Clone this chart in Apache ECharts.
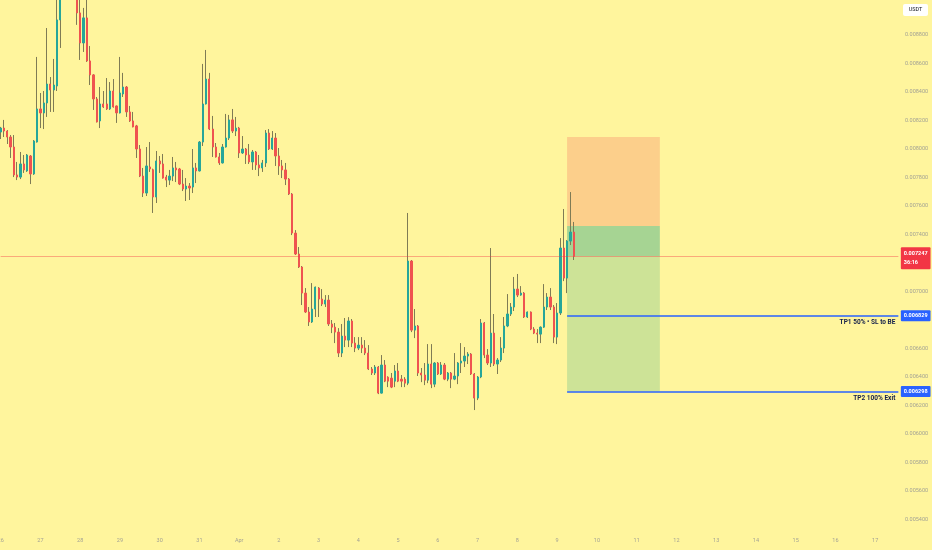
<!DOCTYPE html>
<html>
<head>
<meta charset="utf-8">
<script src="https://cdn.jsdelivr.net/npm/echarts@6/dist/echarts.min.js"></script>
<style>
html, body { margin: 0; padding: 0; background: #FFF59D; }
#main { width: 932px; height: 550px; }
</style>
</head>
<body>
<div id="main"></div>
<script>
// 2h candles from Mar 26 00:00, each row: [open, close, low, high]
var candles = [
  [0.008119,0.008147,0.008070,0.008155],[0.008147,0.008126,0.008084,0.008204],[0.008126,0.008084,0.008035,0.008133],[0.008084,0.008014,0.007937,0.008098],
  [0.008014,0.007818,0.007803,0.008098],[0.007818,0.007803,0.007782,0.007909],[0.007803,0.007895,0.007789,0.007979],[0.007895,0.007853,0.007832,0.007958],
  [0.007846,0.007958,0.007839,0.007965],[0.007951,0.007825,0.007754,0.007958],[0.007825,0.008056,0.007818,0.008063],[0.008049,0.008281,0.008045,0.008646],
  [0.008281,0.008253,0.008147,0.008393],[0.008253,0.008323,0.008140,0.008407],[0.008323,0.008456,0.008225,0.008849],[0.008456,0.008414,0.008260,0.008505],
  [0.008414,0.008449,0.008260,0.008632],[0.008442,0.008906,0.008407,0.009081],[0.008906,0.009160,0.008709,0.009195],[0.009160,0.009120,0.009070,0.009198],
  [0.009120,0.009180,0.009090,0.009199],[0.009180,0.009130,0.009080,0.009199],[0.009130,0.009090,0.009060,0.009180],[0.009081,0.008955,0.008871,0.009151],
  [0.008955,0.008744,0.008625,0.009050],[0.008744,0.008920,0.008681,0.008990],[0.008920,0.008618,0.008611,0.009060],[0.008618,0.008520,0.008449,0.008723],
  [0.008520,0.008351,0.008274,0.008525],[0.008351,0.008190,0.008186,0.008365],[0.008197,0.008316,0.008147,0.008435],[0.008316,0.008295,0.008288,0.008407],
  [0.008316,0.008281,0.008274,0.008498],[0.008281,0.008407,0.008274,0.008470],[0.008407,0.008295,0.008290,0.008491],[0.008302,0.008253,0.008183,0.008305],
  [0.008253,0.008393,0.008249,0.008646],[0.008386,0.008435,0.008365,0.008534],[0.008435,0.008260,0.008225,0.008442],[0.008260,0.008197,0.008190,0.008302],
  [0.008197,0.008155,0.008152,0.008260],[0.008162,0.008000,0.007937,0.008169],[0.008000,0.007810,0.007803,0.008028],[0.007810,0.007691,0.007663,0.007867],
  [0.007691,0.007881,0.007670,0.008014],[0.007874,0.007860,0.007839,0.008049],[0.007855,0.007663,0.007551,0.007862],[0.007663,0.007916,0.007621,0.007986],
  [0.007916,0.007895,0.007832,0.007951],[0.007895,0.007796,0.007792,0.007965],[0.007803,0.007782,0.007733,0.007818],[0.007782,0.007810,0.007747,0.007853],
  [0.007810,0.007867,0.007775,0.007944],[0.007867,0.007853,0.007768,0.007909],[0.007860,0.007754,0.007747,0.007867],[0.007754,0.007719,0.007705,0.007853],
  [0.007719,0.007740,0.007635,0.007796],[0.007740,0.007726,0.007642,0.007761],[0.007733,0.007867,0.007691,0.008000],[0.007867,0.007846,0.007761,0.007902],
  [0.007846,0.008049,0.007842,0.008056],[0.008049,0.008316,0.008021,0.008597],[0.008316,0.008491,0.008312,0.008695],[0.008491,0.008140,0.008133,0.008534],
  [0.008140,0.008014,0.007944,0.008232],[0.008014,0.007944,0.007940,0.008042],[0.007944,0.007902,0.007888,0.007972],[0.007902,0.008014,0.007898,0.008035],
  [0.008014,0.008077,0.008010,0.008246],[0.008077,0.008204,0.008063,0.008239],[0.008204,0.008126,0.008112,0.008281],[0.008126,0.008147,0.008091,0.008225],
  [0.008147,0.007972,0.007937,0.008155],[0.007972,0.008000,0.007965,0.008091],[0.008000,0.007958,0.007895,0.008007],[0.007958,0.007909,0.007895,0.008035],
  [0.007909,0.007979,0.007853,0.007993],[0.007979,0.007888,0.007853,0.007986],[0.007888,0.007867,0.007810,0.007958],[0.007867,0.007902,0.007839,0.007923],
  [0.007902,0.008112,0.007874,0.008133],[0.008112,0.008000,0.007993,0.008140],[0.008000,0.008077,0.007993,0.008126],[0.008077,0.007951,0.007881,0.008112],
  [0.007951,0.007881,0.007818,0.008007],[0.007881,0.007853,0.007796,0.007923],[0.007853,0.007789,0.007747,0.007902],[0.007789,0.007684,0.007677,0.007796],
  [0.007684,0.007410,0.007396,0.007691],[0.007410,0.007263,0.007256,0.007431],[0.007263,0.007172,0.007165,0.007312],[0.007172,0.006989,0.006905,0.007179],
  [0.006989,0.006856,0.006849,0.007024],[0.006856,0.006786,0.006758,0.006891],[0.006786,0.006877,0.006779,0.007059],[0.006877,0.007031,0.006821,0.007035],
  [0.007024,0.006947,0.006821,0.007031],[0.006947,0.006912,0.006898,0.007017],[0.006912,0.006940,0.006891,0.006975],[0.006940,0.006772,0.006758,0.006975],
  [0.006772,0.006750,0.006708,0.006800],[0.006750,0.006715,0.006638,0.006779],[0.006715,0.006568,0.006540,0.006743],[0.006568,0.006687,0.006540,0.006772],
  [0.006687,0.006659,0.006610,0.006814],[0.006659,0.006793,0.006610,0.006820],[0.006793,0.006638,0.006610,0.006807],[0.006638,0.006603,0.006575,0.006680],
  [0.006603,0.006624,0.006589,0.006680],[0.006624,0.006603,0.006568,0.006680],[0.006603,0.006568,0.006554,0.006659],[0.006568,0.006456,0.006449,0.006624],
  [0.006456,0.006428,0.006414,0.006470],[0.006428,0.006470,0.006414,0.006484],[0.006470,0.006287,0.006280,0.006477],[0.006287,0.006484,0.006284,0.006554],
  [0.006484,0.006371,0.006364,0.006519],[0.006399,0.006371,0.006329,0.006405],[0.006392,0.006329,0.006322,0.006428],[0.006371,0.006442,0.006329,0.006484],
  [0.006442,0.006371,0.006364,0.006498],[0.006385,0.006371,0.006329,0.006414],[0.006385,0.006357,0.006329,0.006399],[0.006357,0.007214,0.006343,0.007551],
  [0.007214,0.006729,0.006715,0.007221],[0.006729,0.006758,0.006673,0.006877],[0.006758,0.006428,0.006407,0.006765],[0.006428,0.006414,0.006364,0.006463],
  [0.006414,0.006378,0.006343,0.006498],[0.006378,0.006491,0.006357,0.006631],[0.006491,0.006350,0.006322,0.006631],[0.006350,0.006498,0.006329,0.006505],
  [0.006498,0.006421,0.006414,0.006505],[0.006421,0.006484,0.006414,0.006505],[0.006484,0.006385,0.006378,0.006498],[0.006385,0.006428,0.006371,0.006435],
  [0.006428,0.006385,0.006322,0.006435],[0.006385,0.006407,0.006378,0.006568],[0.006407,0.006498,0.006350,0.006505],[0.006498,0.006512,0.006428,0.006638],
  [0.006512,0.006547,0.006470,0.006610],[0.006547,0.006561,0.006491,0.006575],[0.006561,0.006421,0.006414,0.006568],[0.006421,0.006252,0.006168,0.006428],
  [0.006252,0.006400,0.006238,0.006407],[0.006400,0.006779,0.006392,0.006807],[0.006779,0.006554,0.006533,0.006786],[0.006554,0.006498,0.006484,0.006596],
  [0.006498,0.006708,0.006470,0.007305],[0.006708,0.006491,0.006477,0.006842],[0.006491,0.006519,0.006421,0.006533],[0.006519,0.006603,0.006505,0.006680],
  [0.006603,0.006758,0.006568,0.006821],[0.006758,0.006842,0.006750,0.006982],[0.006842,0.006891,0.006828,0.006919],[0.006891,0.007017,0.006863,0.007102],
  [0.007017,0.006975,0.006961,0.007123],[0.006975,0.006989,0.006970,0.007038],[0.006989,0.006821,0.006814,0.006996],[0.006821,0.006856,0.006814,0.006860],
  [0.006856,0.006736,0.006729,0.006860],[0.006736,0.006708,0.006701,0.006750],[0.006708,0.006701,0.006638,0.006736],[0.006701,0.006750,0.006638,0.006755],
  [0.006750,0.006891,0.006745,0.007052],[0.006891,0.006961,0.006870,0.006989],[0.006961,0.006891,0.006870,0.007024],[0.006891,0.006680,0.006638,0.006905],
  [0.006680,0.006849,0.006631,0.006919],[0.006849,0.007305,0.006835,0.007375],[0.007305,0.007094,0.007073,0.007579],[0.007094,0.007354,0.006989,0.007361],
  [0.007354,0.007417,0.007326,0.007698],[0.007417,0.007247,0.007221,0.007488]
];

// one label per day, shown under the 00:00 bar
var dayLabels = ['26', '27', '28', '29', '30', '31', 'Apr', '2', '3', '4', '5', '6', '7', '8', '9', '10', '11', '12', '13', '14', '15', '16', '17'];
var barsPerDay = 12;
var slotCount = 272;

var lastPrice = 0.007247;
var countdown = '36:16';

// long position tool
var stopPrice = 0.008084;
var entryPrice = 0.00746;
var tp1Price = 0.006829;
var tp2Price = 0.006298;
var tp1Text = 'TP1 50% \u2022 SL to BE';
var tp2Text = 'TP2 100% Exit';
var positionFrom = 171;
var positionTo = 199;

var upColor = '#26A69A';
var downColor = '#EF5350';
var wickColor = '#7f7b55';
var axisTextColor = '#a3a294';
var tpColor = '#2962FF';
var font = 'Roboto';

var slots = [];
for (var i = 0; i < slotCount; i++) slots.push(String(i));

var bodies = candles.map(function (c) {
    return [c[0], c[1], Math.min(c[0], c[1]), Math.max(c[0], c[1])];
});

var myChart = echarts.init(document.getElementById('main'));

// price tag sitting on the right axis
function priceBox(color, text) {
    return {
        show: true,
        position: 'right',
        distance: 2.5,
        formatter: text,
        backgroundColor: color,
        color: '#fff',
        fontFamily: font,
        fontSize: 5.5,
        fontWeight: 'bold',
        lineHeight: 7,
        padding: [2, 3, 2, 3],
        borderRadius: 1
    };
}

function noteLabel(text) {
    return {
        show: true,
        position: 'insideEndBottom',
        distance: 3,
        formatter: text,
        color: '#131f4a',
        fontFamily: font,
        fontSize: 6.5,
        fontWeight: 'bold'
    };
}

var lastBox = priceBox('#F23645', lastPrice.toFixed(6) + '\n' + countdown);
lastBox.lineHeight = 8.5;
lastBox.padding = [3, 3, 2, 3];
lastBox.offset = [0, 2];

var lineEnd = slotCount - 1;

myChart.setOption({
    backgroundColor: '#FFF59D',
    animation: false,
    grid: { left: -1, right: 32, top: -22, bottom: 2, outerBoundsMode: 'none' },
    xAxis: {
        type: 'category',
        data: slots,
        boundaryGap: true,
        axisLine: { show: false },
        axisTick: { show: false },
        splitLine: { show: false },
        axisLabel: {
            inside: true,
            margin: 4,
            color: axisTextColor,
            fontFamily: font,
            fontSize: 5.5,
            interval: function (index) { return index % barsPerDay === 0; },
            formatter: function (value, index) {
                return dayLabels[index / barsPerDay] || '';
            }
        }
    },
    yAxis: {
        type: 'value',
        position: 'right',
        min: 0.0052,
        max: 0.0092,
        interval: 0.0002,
        axisLine: { show: false },
        axisTick: { show: false },
        splitLine: { show: false },
        axisLabel: {
            margin: 5,
            color: axisTextColor,
            fontFamily: font,
            fontSize: 5.5,
            formatter: function (v) {
                var s = v.toFixed(6);
                if (s === '0.009200' || s === '0.009000' || s === '0.007200' || s === '0.005200') return '';
                return s;
            }
        }
    },
    graphic: [{
        type: 'group',
        left: 903,
        top: 4,
        z: 100,
        children: [
            { type: 'rect', shape: { x: 0, y: 0, width: 25, height: 12, r: 2 }, style: { fill: '#ffffff' } },
            { type: 'text', x: 12.5, y: 6, style: { text: 'USDT', fill: '#131722', font: '5.5px Roboto', align: 'center', verticalAlign: 'middle' } }
        ]
    }],
    series: [
        {
            type: 'line',
            data: [],
            z: 1,
            silent: true,
            markArea: {
                silent: true,
                itemStyle: { borderWidth: 0 },
                data: [
                    [{ xAxis: positionFrom, yAxis: stopPrice, itemStyle: { color: '#FCCF8B' } }, { xAxis: positionTo, yAxis: entryPrice }],
                    [{ xAxis: positionFrom, yAxis: entryPrice, itemStyle: { color: '#A6D493' } }, { xAxis: positionTo, yAxis: lastPrice }],
                    [{ xAxis: positionFrom, yAxis: lastPrice, itemStyle: { color: '#CDE397' } }, { xAxis: positionTo, yAxis: tp2Price }]
                ]
            }
        },
        {
            type: 'candlestick',
            name: 'wicks',
            data: candles,
            z: 2,
            silent: true,
            barWidth: 0.01,
            itemStyle: {
                color: 'rgba(0,0,0,0)',
                color0: 'rgba(0,0,0,0)',
                borderColor: wickColor,
                borderColor0: wickColor,
                borderColorDoji: wickColor,
                borderWidth: 1
            }
        },
        {
            type: 'candlestick',
            name: 'bodies',
            data: bodies,
            z: 3,
            silent: true,
            barWidth: 1.8,
            itemStyle: {
                color: upColor,
                color0: downColor,
                borderColor: upColor,
                borderColor0: downColor,
                borderWidth: 1
            }
        },
        {
            type: 'line',
            data: [],
            z: 5,
            clip: false,
            silent: true,
            markLine: {
                silent: true,
                symbol: ['none', 'none'],
                lineStyle: { color: tpColor, width: 1, type: 'solid', opacity: 1 },
                data: [
                    [{ coord: [0, lastPrice], lineStyle: { color: 'rgba(242,54,69,0.4)', width: 1 }, label: { show: false } }, { coord: [lineEnd, lastPrice] }],
                    [{ coord: [positionFrom, tp1Price], lineStyle: { color: tpColor, width: 1.5 }, label: noteLabel(tp1Text) }, { coord: [lineEnd, tp1Price] }],
                    [{ coord: [positionFrom, tp2Price], lineStyle: { color: tpColor, width: 1.5 }, label: noteLabel(tp2Text) }, { coord: [lineEnd, tp2Price] }]
                ]
            },
            markPoint: {
                silent: true,
                symbol: 'rect',
                symbolSize: 0.01,
                data: [
                    { coord: [lineEnd, lastPrice], itemStyle: { color: 'rgba(0,0,0,0)' }, label: lastBox },
                    { coord: [lineEnd, tp1Price], itemStyle: { color: 'rgba(0,0,0,0)' }, label: priceBox(tpColor, tp1Price.toFixed(6)) },
                    { coord: [lineEnd, tp2Price], itemStyle: { color: 'rgba(0,0,0,0)' }, label: priceBox(tpColor, tp2Price.toFixed(6)) }
                ]
            }
        }
    ]
});
</script>
</body>
</html>
